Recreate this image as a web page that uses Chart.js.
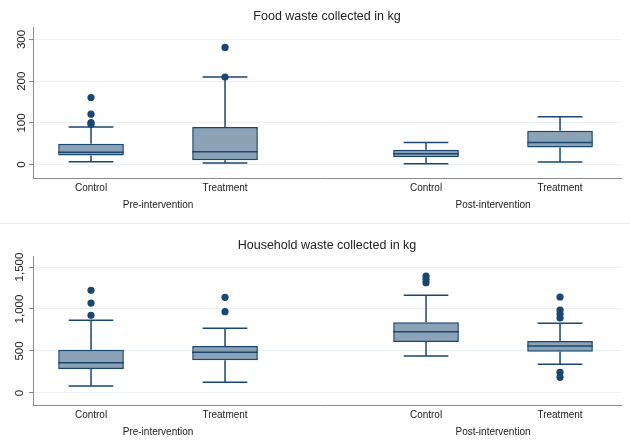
<!DOCTYPE html>
<html>
<head>
<meta charset="utf-8">
<script src="https://cdn.jsdelivr.net/npm/chart.js@4/dist/chart.umd.min.js"></script>
<style>
  html, body { margin: 0; padding: 0; background: #fff; }
  canvas { display: block; }
  .sep { height: 1px; background: #ececec; width: 630px; }
</style>
</head>
<body>
<canvas id="food" width="630" height="223"></canvas>
<div class="sep"></div>
<canvas id="household" width="630" height="219"></canvas>
<script>
// ---------- data ----------
const categories = ['Control', 'Treatment', 'Control', 'Treatment'];
const groups = ['Pre-intervention', 'Post-intervention'];
const boxGroup = [0, 0, 1, 1];

const foodTicks = [0, 100, 200, 300];
const foodLow  = [7, 4, 2, 6.5];
const foodQ1   = [22, 10.5, 18, 41];
const foodMed  = [30, 31, 26, 53];
const foodQ3   = [50, 90, 36, 81];
const foodHigh = [90, 210, 53, 115];
const foodOutliers = [[97, 101, 121, 161], [210, 281], [], []];

const hhTicks = [0, 500, 1000, 1500];
const hhLow  = [83, 127, 440, 342];
const hhQ1   = [286, 389, 607, 492];
const hhMed  = [361, 484, 730, 560];
const hhQ3   = [516, 560, 841, 619];
const hhHigh = [865, 770, 1163, 830];
const hhOutliers = [[925, 1071, 1222], [968, 1139], [1313, 1353, 1393], [187, 246, 893, 940, 988, 1143]];

// ---------- layout helpers ----------
const GROUP_GAP = 0.5;           // extra slot units between groups
function xPos(i) {               // position of box i on the linear x scale
  const inGroup = boxGroup.slice(0, i).filter(g => g === boxGroup[i]).length;
  return 1 + boxGroup[i] * (2 + GROUP_GAP) + inGroup;
}
const positions = categories.map((_, i) => xPos(i));
const groupCenters = groups.map((_, g) => {
  const p = positions.filter((_, i) => boxGroup[i] === g);
  return p.reduce((a, b) => a + b, 0) / p.length;
});

const NAVY = '#1a476f';
const FILL = 'rgba(26,71,111,0.5)';
const FONT = "'Liberation Sans', Arial, sans-serif";
Chart.defaults.font.family = FONT;
Chart.defaults.color = '#333';

const whiskerPlugin = {
  id: 'boxWhiskers',
  beforeDatasetsDraw(chart, args, opts) {
    const xs = chart.scales.x, ys = chart.scales.y, ctx = chart.ctx;
    const meta = chart.getDatasetMeta(0);
    ctx.save();
    ctx.strokeStyle = NAVY;
    ctx.lineWidth = 1.5;
    opts.low.forEach((lo, i) => {
      const x = xs.getPixelForValue(positions[i]);
      const half = meta.data[i].width * opts.capRatio / 2;
      const pLo = ys.getPixelForValue(lo), pHi = ys.getPixelForValue(opts.high[i]);
      const pQ1 = ys.getPixelForValue(opts.q1[i]), pQ3 = ys.getPixelForValue(opts.q3[i]);
      ctx.beginPath();
      ctx.moveTo(x, pLo); ctx.lineTo(x, pQ1);
      ctx.moveTo(x, pQ3); ctx.lineTo(x, pHi);
      ctx.moveTo(x - half, pLo); ctx.lineTo(x + half, pLo);
      ctx.moveTo(x - half, pHi); ctx.lineTo(x + half, pHi);
      ctx.stroke();
    });
    ctx.restore();
  },
  afterDatasetsDraw(chart, args, opts) {
    const ys = chart.scales.y, ctx = chart.ctx;
    const meta = chart.getDatasetMeta(0);
    ctx.save();
    ctx.strokeStyle = NAVY;
    ctx.lineWidth = 1.5;
    opts.med.forEach((m, i) => {
      const bar = meta.data[i];
      const y = ys.getPixelForValue(m);
      ctx.beginPath();
      ctx.moveTo(bar.x - bar.width / 2, y);
      ctx.lineTo(bar.x + bar.width / 2, y);
      ctx.stroke();
    });
    ctx.restore();
  }
};

function makeChart(id, title, low, q1, med, q3, high, outliers, ticks, yMin, yMax, titlePad, bottomH, yLabelPad) {
  const boxes = positions.map((x, i) => ({ x, y: [q1[i], q3[i]] }));
  const pts = [];
  outliers.forEach((arr, i) => arr.forEach(v => pts.push({ x: positions[i], y: v })));
  return new Chart(document.getElementById(id), {
    type: 'bar',
    data: {
      datasets: [
        {
          type: 'bar',
          data: boxes,
          backgroundColor: FILL,
          borderColor: NAVY,
          borderWidth: 1.5,
          borderSkipped: false,
          barPercentage: 0.49,
          categoryPercentage: 1,
          order: 2
        },
        {
          type: 'scatter',
          data: pts,
          pointRadius: 3.6,
          pointBackgroundColor: NAVY,
          pointBorderWidth: 0,
          showLine: false,
          order: 1
        }
      ]
    },
    options: {
      responsive: false,
      animation: false,
      layout: { padding: { left: 0, right: 9, top: 0, bottom: 0 } },
      plugins: {
        legend: { display: false },
        tooltip: { enabled: false },
        title: {
          display: true,
          text: title,
          fullSize: false,
          color: '#222',
          font: { size: 12.5, weight: 'normal', family: FONT },
          padding: { top: titlePad[0], bottom: titlePad[1] }
        },
        boxWhiskers: { low, high, q1, q3, med, capRatio: 0.68 }
      },
      scales: {
        x: {
          type: 'linear',
          position: 'bottom',
          offset: false,
          min: 0.567, max: 4.955,
          weight: 0,
          grid: { display: true, drawOnChartArea: false, drawTicks: false },
          border: { display: true, color: '#8a8a8a', width: 1 },
          afterBuildTicks: s => { s.ticks = positions.map(v => ({ value: v })); },
          afterFit: s => { s.height = 20; },
          ticks: {
            autoSkip: false,
            maxRotation: 0, minRotation: 0,
            padding: 4,
            color: '#222',
            font: { size: 10 },
            callback: (v, i) => categories[i]
          }
        },
        x2: {
          type: 'linear',
          position: 'bottom',
          offset: false,
          min: 0.567, max: 4.955,
          weight: 1,
          grid: { display: false, drawTicks: false },
          border: { display: false },
          afterBuildTicks: s => { s.ticks = groupCenters.map(v => ({ value: v })); },
          afterFit: s => { s.height = bottomH; },
          ticks: {
            autoSkip: false,
            maxRotation: 0, minRotation: 0,
            padding: 1,
            color: '#222',
            font: { size: 10 },
            callback: (v, i) => groups[i]
          }
        },
        y: {
          type: 'linear',
          position: 'left',
          min: yMin, max: yMax,
          afterBuildTicks: s => { s.ticks = ticks.map(v => ({ value: v })); },
          afterFit: s => { s.width = 33; },
          grid: { color: '#eaf0f3', tickColor: '#8a8a8a', tickLength: 4, lineWidth: 1 },
          border: { display: true, color: '#8a8a8a', width: 1 },
          ticks: {
            minRotation: 90, maxRotation: 90,
            crossAlign: 'center',
            padding: yLabelPad,
            color: '#222',
            font: { size: 11.5 },
            callback: v => v.toLocaleString('en-US')
          }
        }
      }
    },
    plugins: [whiskerPlugin]
  });
}

makeChart('food', 'Food waste collected in kg',
  foodLow, foodQ1, foodMed, foodQ3, foodHigh, foodOutliers, foodTicks, -32, 330, [9, 3], 25, -2);
makeChart('household', 'Household waste collected in kg',
  hhLow, hhQ1, hhMed, hhQ3, hhHigh, hhOutliers, hhTicks, -143, 1631, [14, 3], 18, -5.5);
</script>
</body>
</html>
